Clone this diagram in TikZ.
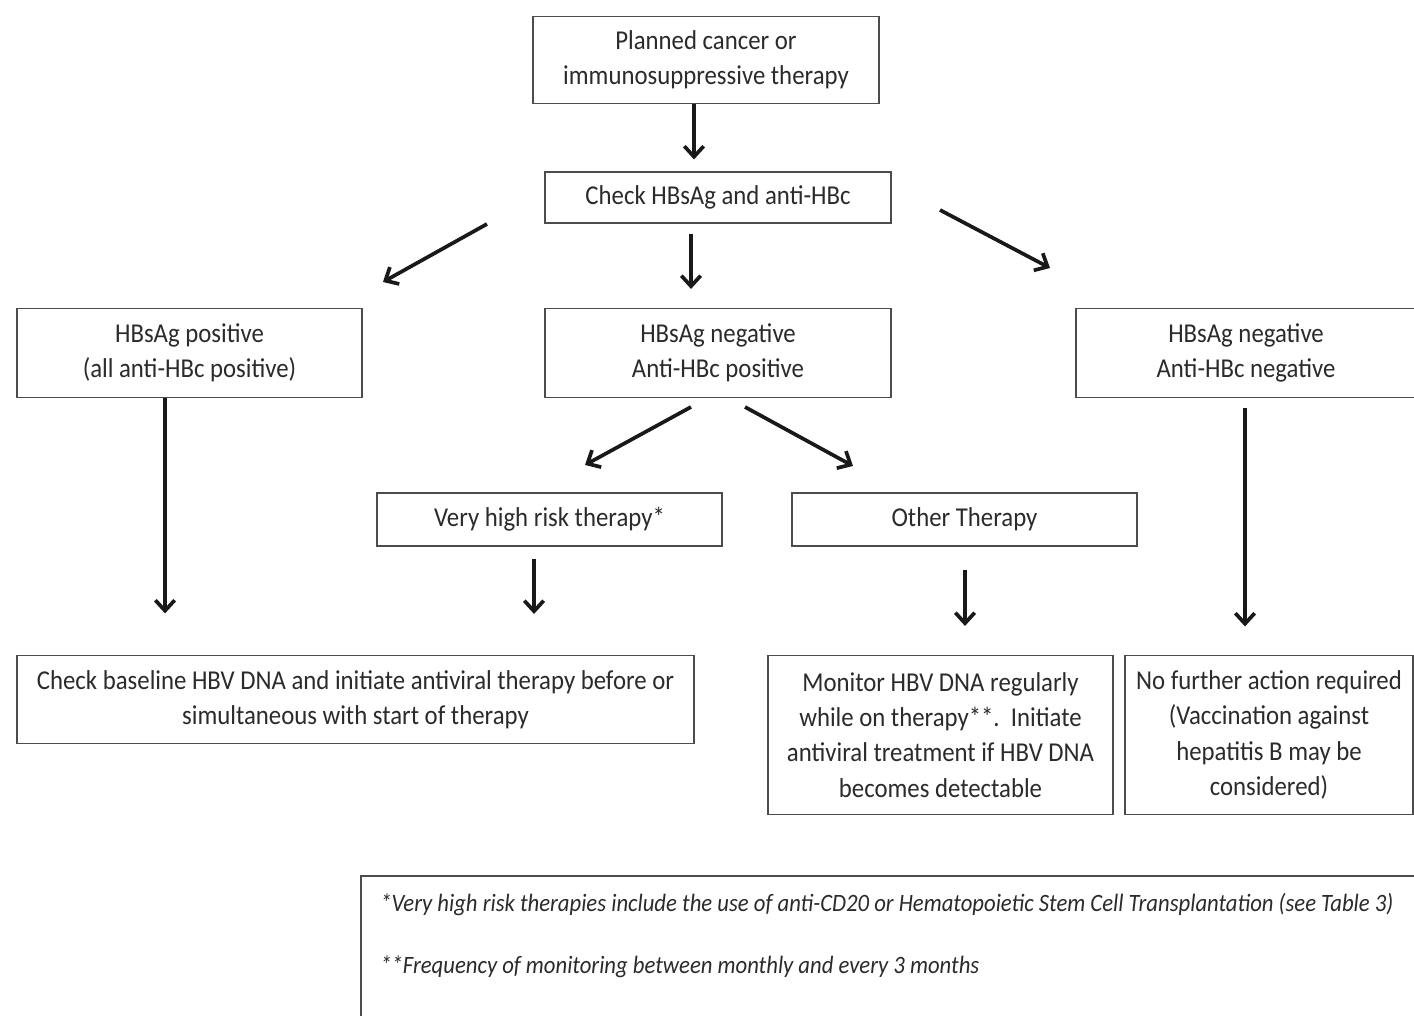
\documentclass[tikz,border=0pt]{standalone}
\usepackage{fontspec}
\setmainfont{Carlito}[FakeStretch=0.91]
\usetikzlibrary{arrows.meta}
\definecolor{ink}{gray}{0.17}
\definecolor{edge}{gray}{0.3}
\tikzset{
  box/.style={draw=edge, line width=1.1pt, text=ink, align=center, inner sep=0pt,
    font=\fontsize{15.5}{20}\selectfont},
  arr/.style={-{Straight Barb[length=6pt,width=11pt]}, line width=2.1pt, draw=black!90},
  note/.style={anchor=west, text=ink, inner sep=0pt, font=\fontsize{14.2}{16}\selectfont\itshape}
}
\begin{document}
\begin{tikzpicture}[x=0.02cm, y=-0.02cm]
    \useasboundingbox (0,0) rectangle (1414,1016);
    \clip (0,0) rectangle (1414,1016);
    \fill[white] (0,0) rectangle (1414,1016);
    % boxes
    \node[box, minimum width=6.92cm, minimum height=1.74cm] (plan) at (706,60) {Planned cancer or\\immunosuppressive therapy};
    \node[box, minimum width=6.92cm, minimum height=1.02cm] (check) at (718,197.5) {Check HBsAg and anti-HBc};
    \node[box, minimum width=6.9cm, minimum height=1.78cm] (pos) at (189.5,353) {HBsAg positive\\(all anti-HBc positive)};
    \node[box, minimum width=6.92cm, minimum height=1.78cm] (negpos) at (718,353) {HBsAg negative\\Anti-HBc positive};
    \node[box, minimum width=6.8cm, minimum height=1.78cm] (negneg) at (1246,353) {HBsAg negative\\Anti-HBc negative};
    \node[box, minimum width=6.9cm, minimum height=1.06cm] (vhr) at (549.5,519.5) {Very high risk therapy*};
    \node[box, minimum width=6.9cm, minimum height=1.06cm] (other) at (964.5,519.5) {Other Therapy};
    \node[box, minimum width=13.54cm, minimum height=1.76cm] (base) at (355.5,699.5) {Check baseline HBV DNA and initiate antiviral therapy before or\\simultaneous with start of therapy};
    \node[box, minimum width=6.9cm, minimum height=3.18cm] (mon) at (940.5,735) {Monitor HBV DNA regularly\\while on therapy**.\ \ Initiate\\antiviral treatment if HBV DNA\\becomes detectable};
    \node[box, minimum width=5.76cm, minimum height=3.18cm] (nofur) at (1269,735) {No further action required\\(Vaccination against\\hepatitis B may be\\considered)};
    % footnote panel
    \draw[draw=edge, line width=1.1pt] (1430,876) -- (361,876) -- (361,1030);
    \node[note] (fn1) at (380,905) {*Very high risk therapies include the use of anti-CD20 or Hematopoietic Stem Cell Transplantation (see Table 3)};
    \node[note] (fn2) at (380,967) {**Frequency of monitoring between monthly and every 3 months};
    % free arrow ends
    \coordinate (c1) at (487,224);  \coordinate (c2) at (383,282);
    \coordinate (c3) at (940,210);  \coordinate (c4) at (1050,268);
    \coordinate (c5) at (691,407);  \coordinate (c6) at (585,465);
    \coordinate (c7) at (745,407);  \coordinate (c8) at (853,466);
    % arrows
    \draw[arr] (plan.south -| 694,0) -- ++(0,55);
    \draw[arr] (c1) -- (c2);
    \draw[arr] ([yshift=-0.2cm]check.south -| 691,0) -- ++(0,55);
    \draw[arr] (c3) -- (c4);
    \draw[arr] (pos.south -| 165,0) -- ++(0,215);
    \draw[arr] (c5) -- (c6);
    \draw[arr] (c7) -- (c8);
    \draw[arr] ([yshift=-0.2cm]negneg.south -| 1245,0) -- ++(0,218);
    \draw[arr] ([yshift=-0.24cm]vhr.south -| 534,0) -- ++(0,55);
    \draw[arr] ([yshift=-0.46cm]other.south -| 965,0) -- ++(0,56);
\end{tikzpicture}
\end{document}
